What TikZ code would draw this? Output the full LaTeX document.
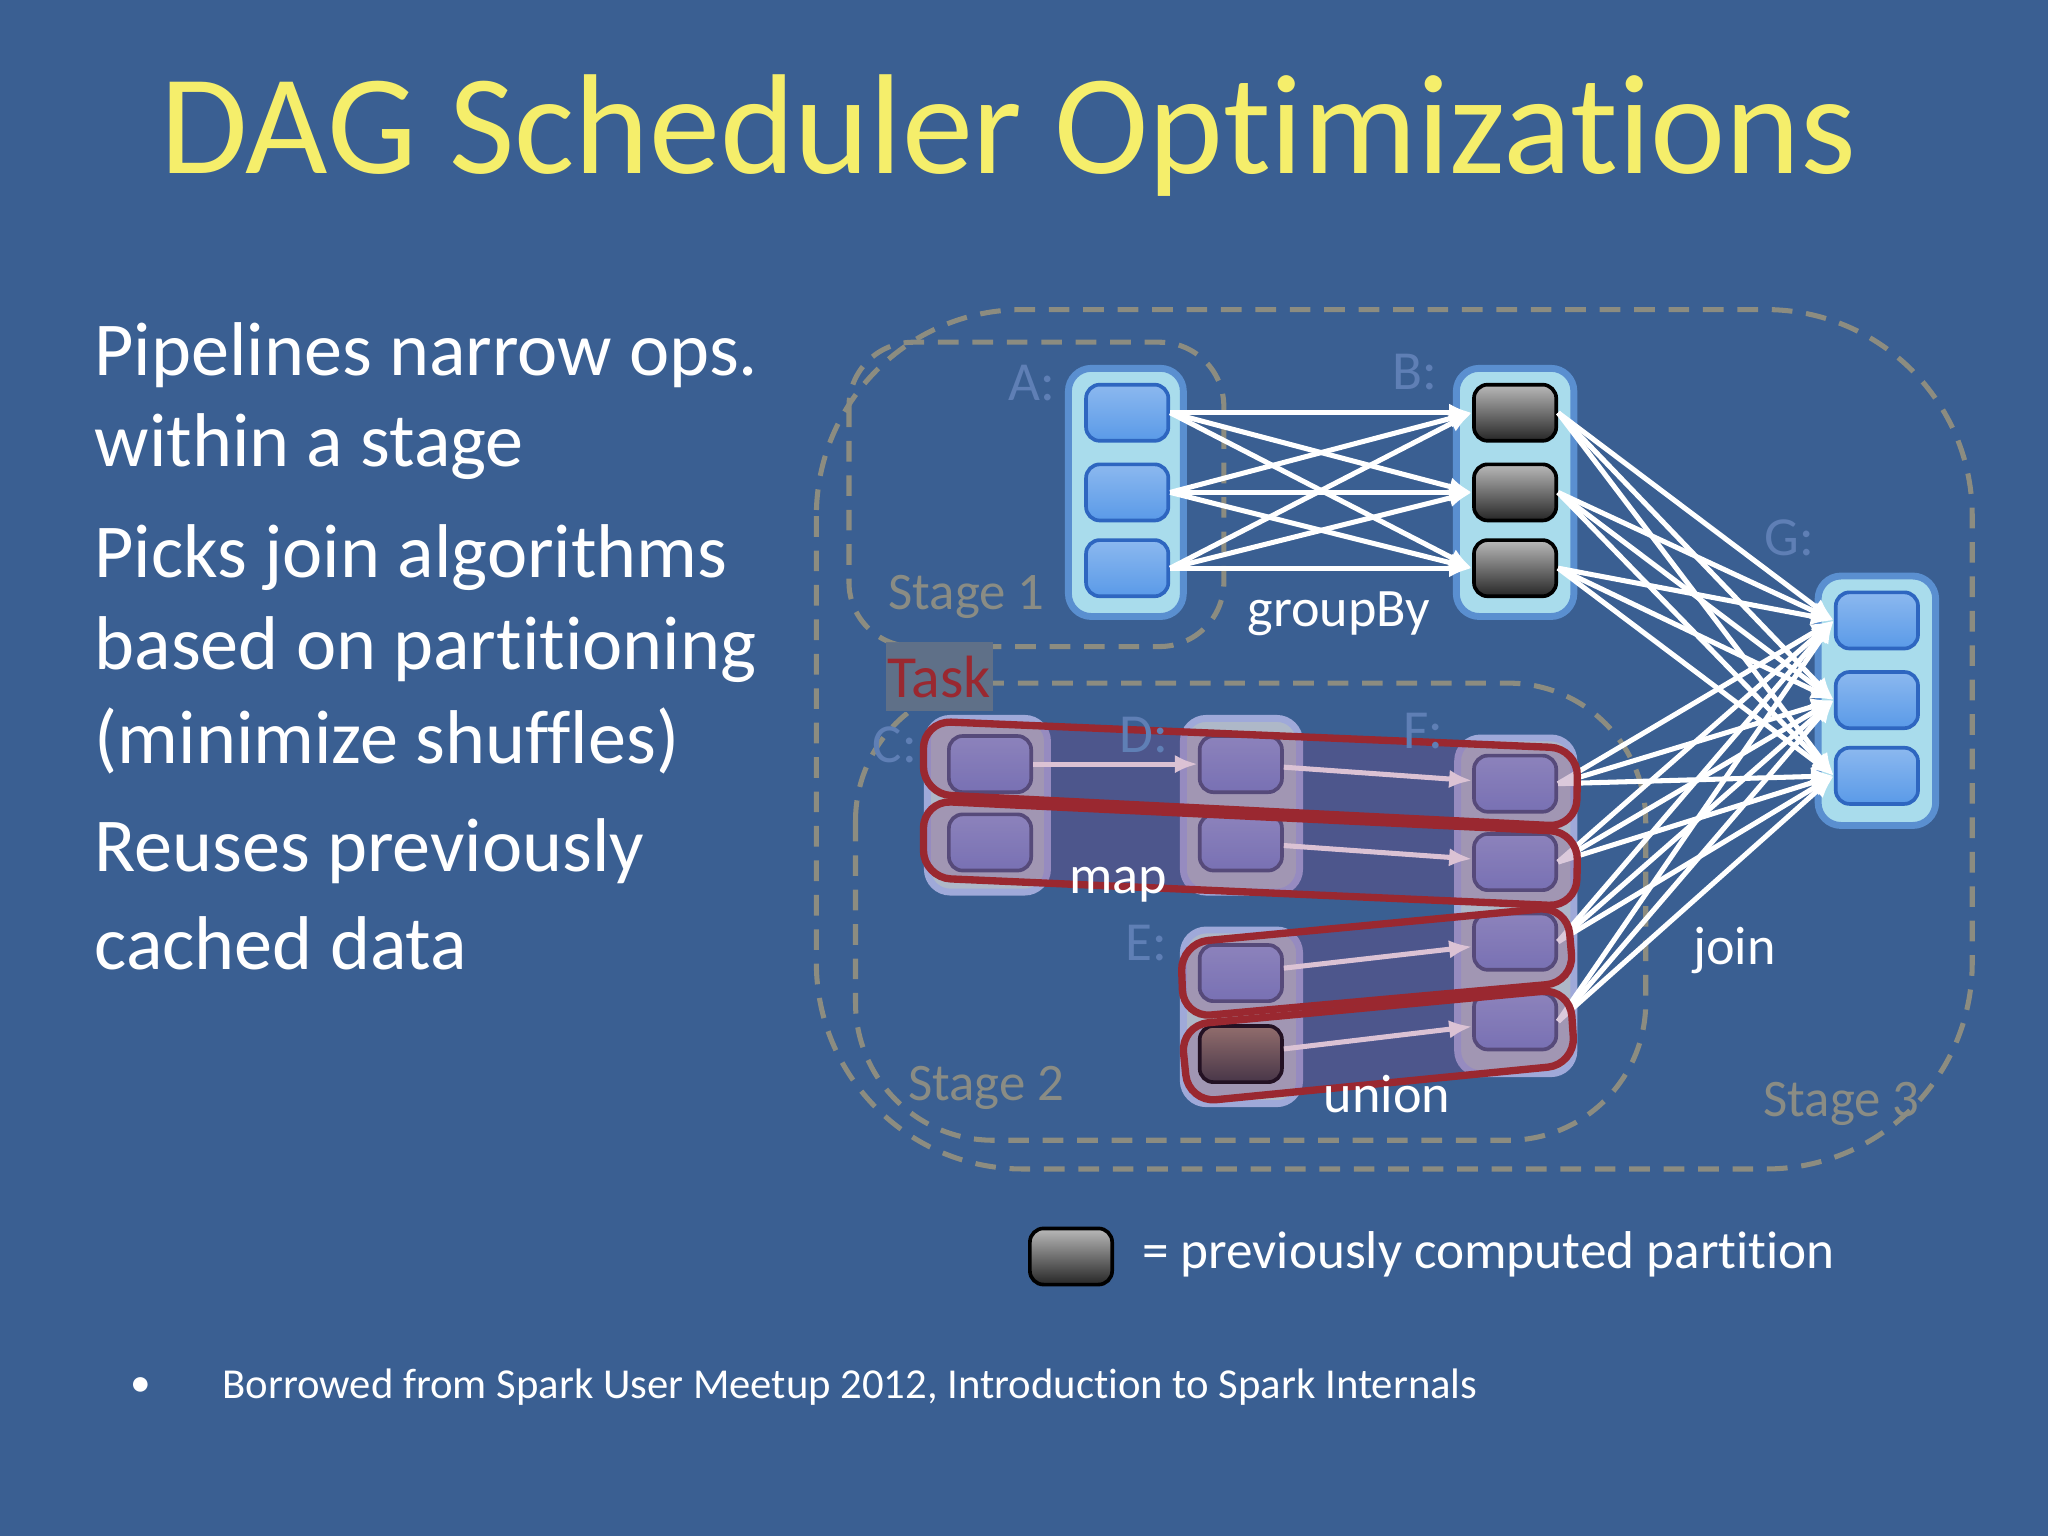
\documentclass[tikz,border=0pt]{standalone}
\usepackage{fontspec}
\setmainfont{Carlito}[Ligatures=NoCommon]
\usetikzlibrary{arrows.meta}
\definecolor{bg}{HTML}{3A5F92}
\definecolor{ttl}{HTML}{F5EE6B}
\definecolor{dashc}{HTML}{8C8C80}
\definecolor{cont}{HTML}{A9DCEC}
\definecolor{contb}{HTML}{5A8FD0}
\definecolor{blk}{HTML}{5A9AE8}
\definecolor{blkd}{HTML}{2E66C0}
\definecolor{dimc}{HTML}{AEB8C8}
\definecolor{dimb}{HTML}{7684C8}
\definecolor{faint}{HTML}{5F7FB5}
\definecolor{stg}{HTML}{8A8C84}
\definecolor{taskr}{HTML}{9A2830}
\tikzset{
 stagebox/.style={draw=dashc,dash pattern=on 4.5pt off 3pt,line width=1.1pt,rounded corners=14pt},
 contbox/.style={draw=contb,line width=1.5pt,fill=cont,rounded corners=5pt},
 dimcont/.style={draw=dimb!70,line width=1.5pt,fill=dimc,rounded corners=5pt},
 part/.style={draw=blkd,line width=0.8pt,rounded corners=3pt,top color=blk!70!white,bottom color=blk},
 dpart/.style={draw=black,line width=0.8pt,rounded corners=3pt,top color=gray!55,bottom color=black!85},
 dimpart/.style={draw=dimb!60!black,line width=0.8pt,rounded corners=3pt,top color=dimb!80!white,bottom color=dimb},
 dimdpart/.style={draw=black,line width=0.8pt,rounded corners=3pt,top color=brown!40!gray,bottom color=black!80},
 arr/.style={draw=white,line width=1.1pt,-{Latex[length=5pt,width=4pt]}},
 darr/.style={draw=white!85!pink,line width=1.1pt,-{Latex[length=5pt,width=4pt]}},
 task/.style={draw=taskr,line width=1.6pt,fill=violet!50!gray,fill opacity=0.28,rounded corners=6pt},
 lbl/.style={font=\fontsize{12}{12}\selectfont,text=faint},
 slbl/.style={font=\fontsize{11.5}{12}\selectfont,text=stg},
 wlbl/.style={font=\fontsize{11.8}{12}\selectfont,text=white},
 body/.style={font=\fontsize{16.6}{20}\selectfont,text=white,anchor=west}
}
\newcommand{\prt}[5]{\node[#1,minimum width=6.3mm,minimum height=4.3mm,inner sep=0] (#2) at (#3,#4) {};}
\begin{document}
\begin{tikzpicture}[x=0.1mm,y=-0.1mm]
\fill[bg] (0,0) rectangle (1568,1176);
\useasboundingbox (0,0) rectangle (1568,1176);
\node[text=ttl,font=\fontsize{31}{34}\selectfont] (title) at (772,104) {DAG Scheduler Optimizations};
\node[body] (l1) at (60,272) {Pipelines narrow ops.};
\node[body] (l2) at (60,342) {within a stage};
\node[body] (l3) at (60,427) {Picks join algorithms};
\node[body] (l4) at (60,497) {based on partitioning};
\node[body] (l5) at (60,567) {(minimize shuffles)};
\node[body] (l6) at (60,652) {Reuses previously};
\node[body] (l7) at (60,722) {cached data};
% stages
\draw[stagebox,rounded corners=45pt] (625,237) rectangle (1510,895);
\draw[stagebox] (650,262) rectangle (937,495);
\draw[stagebox,rounded corners=30pt] (655,523) rectangle (1260,873);
% containers
\draw[contbox] (818,282) rectangle (906,472);
\draw[contbox] (1115,282) rectangle (1205,472);
\draw[contbox] (1392,441) rectangle (1482,632);
\draw[dimcont] (710,550) rectangle (802,683);
\draw[dimcont] (906,550) rectangle (995,683);
\draw[dimcont] (1116,565) rectangle (1205,822);
\draw[dimcont] (906,712) rectangle (995,845);
% partitions
\prt{part}{a1}{863}{316}{}\prt{part}{a2}{863}{377}{}\prt{part}{a3}{863}{435}{}
\prt{dpart}{b1}{1160}{316}{}\prt{dpart}{b2}{1160}{377}{}\prt{dpart}{b3}{1160}{435}{}
\prt{part}{g1}{1437}{475}{}\prt{part}{g2}{1437}{536}{}\prt{part}{g3}{1437}{594}{}
\prt{dimpart}{c1}{758}{585}{}\prt{dimpart}{c2}{758}{645}{}
\prt{dimpart}{d1}{950}{585}{}\prt{dimpart}{d2}{950}{645}{}
\prt{dimpart}{f1}{1160}{600}{}\prt{dimpart}{f2}{1160}{660}{}\prt{dimpart}{f3}{1160}{721}{}\prt{dimpart}{f4}{1160}{782}{}
\prt{dimpart}{e1}{950}{745}{}\prt{dimdpart}{e2}{950}{807}{}
% arrows
\foreach \i in {a1,a2,a3}{\foreach \j in {b1,b2,b3}{\draw[arr] (\i.east) -- (\j.west);}}
\foreach \i in {b1,b2,b3}{\foreach \j in {g1,g2,g3}{\draw[arr] (\i.east) -- (\j.west);}}
\foreach \i in {f1,f2,f3,f4}{\foreach \j in {g1,g2,g3}{\draw[arr] (\i.east) -- (\j.west);}}
\draw[darr] (c1) -- (d1); \draw[darr] (d1) -- (f1);
\draw[darr] (d2) -- (f2);
\draw[darr] (e1) -- (f3); \draw[darr] (e2) -- (f4);
% tasks
\draw[task] (707,552) -- (1208,573) -- (1207,633) -- (707,608) -- cycle;
\draw[task] (707,613) -- (1208,637) -- (1207,694) -- (707,672) -- cycle;
\draw[task] (904,722) -- (1200,694) -- (1205,752) -- (906,779) -- cycle;
\draw[task] (904,785) -- (1202,757) -- (1206,815) -- (910,844) -- cycle;
\fill[bg] (678,492) rectangle (760,545);
\node[fill=gray!60!bg,fill opacity=0.9,text opacity=1,text=taskr,font=\fontsize{13}{14}\selectfont,minimum width=8.2mm,minimum height=5.3mm,inner sep=0] (tk) at (719,518) {Task};
% labels
\node[lbl] (la) at (790,293) {A:};
\node[lbl] (lb) at (1083,285) {B:};
\node[lbl] (lg) at (1370,412) {G:};
\node[lbl] (lc) at (685,570) {C:};
\node[lbl] (ld) at (876,563) {D:};
\node[lbl] (le) at (878,722) {E:};
\node[lbl] (lf) at (1090,560) {F:};
\node[slbl] (s1) at (740,457) {Stage 1};
\node[slbl] (s2) at (755,833) {Stage 2};
\node[slbl] (s3) at (1410,845) {Stage 3};
\node[wlbl] (gb) at (1025,470) {groupBy};
\node[wlbl] (mp) at (856,677) {map};
\node[wlbl] (un) at (1062,838) {union};
\node[wlbl] (jn) at (1328,728) {join};
% legend
\node[dpart,minimum width=6.3mm,minimum height=4.3mm,inner sep=0] (leg) at (820,962) {};
\node[wlbl,anchor=west,font=\fontsize{11.6}{14}\selectfont] (legt) at (862,960) {= previously computed partition};
\node[text=white,font=\fontsize{9}{12}\selectfont] (bul) at (108,1062) {•};
\node[text=white,anchor=west,font=\fontsize{9.3}{12}\selectfont] (fn) at (158,1062) {Borrowed from Spark User Meetup 2012, Introduction to Spark Internals};
\end{tikzpicture}
\end{document}
